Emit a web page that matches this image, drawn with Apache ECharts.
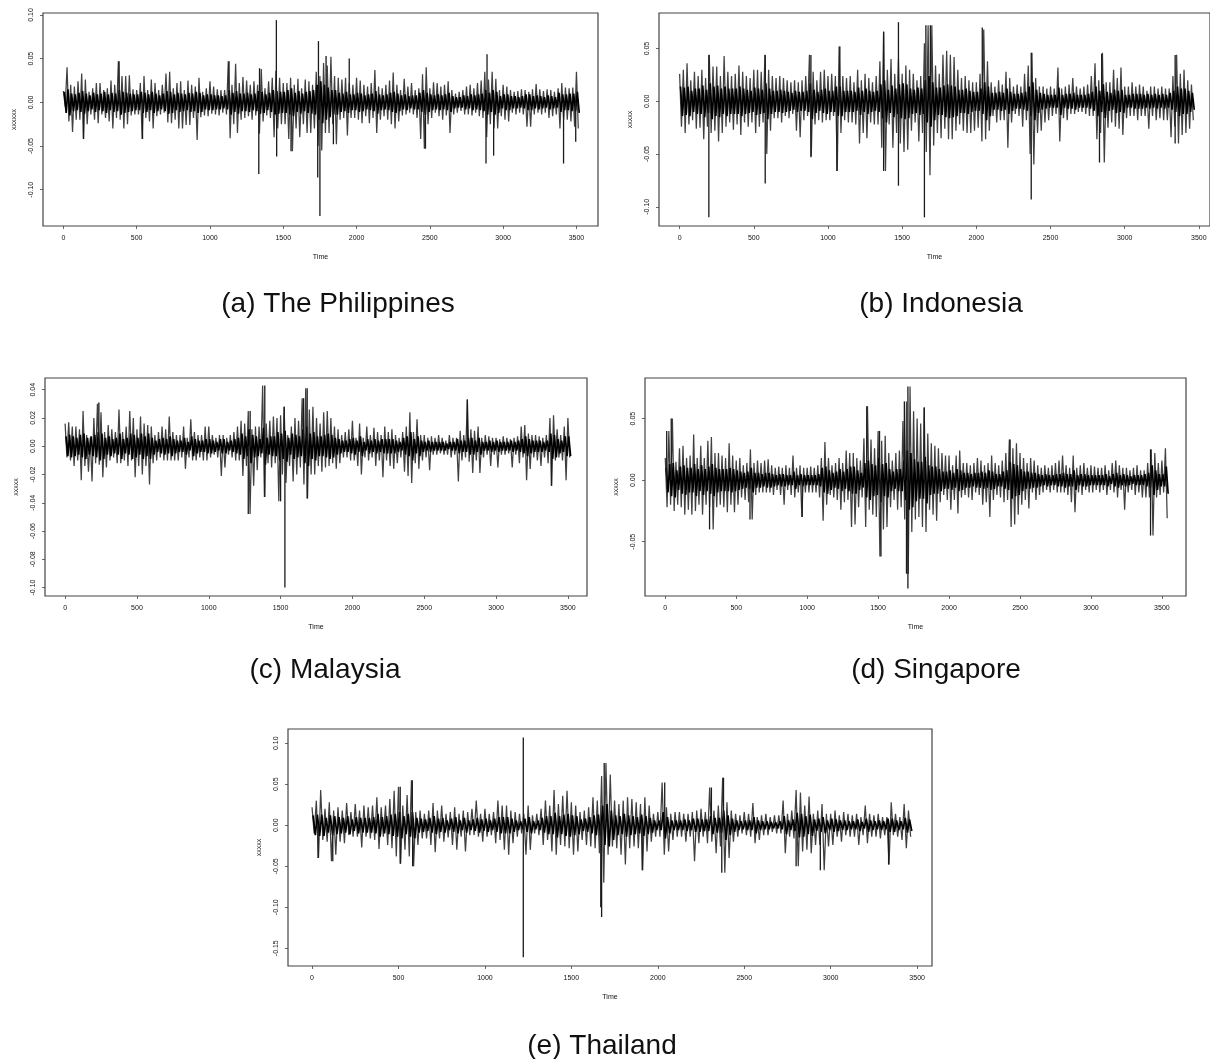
<!DOCTYPE html>
<html><head><meta charset="utf-8">
<script src="https://cdn.jsdelivr.net/npm/echarts@6/dist/echarts.min.js"></script>
<style>html,body{margin:0;padding:0;background:#fff}#c{width:1210px;height:1059px}</style></head>
<body><div id="c"></div>
<script>
// All series values in thousandths. highs/lows/mids: one row per 500 time units, 25 units per entry.
const xTicks=[0,500,1000,1500,2000,2500,3000,3500];
const highsA=[13,40,20,18,24,33,26,12,16,22,22,14,16,25,20,47,30,30,31,15,
14,22,30,14,26,22,14,20,33,35,16,22,24,14,25,20,18,28,12,16,
24,18,15,14,14,47,20,44,22,29,25,20,24,20,38,16,24,28,36,28,
22,22,28,20,27,16,26,24,20,35,30,45,42,52,30,28,26,28,22,20,
28,25,20,18,22,37,18,16,20,25,34,20,14,27,18,22,14,16,32,40,
16,23,22,18,20,24,14,10,12,14,18,20,16,22,25,35,26,35,27,14,
20,18,14,12,13,15,14,12,15,21,15,13,15,14,12,16,22,17,16,17,35];
const lowsA=[-5,-22,-34,-20,-20,-42,-25,-14,-20,-24,-14,-18,-22,-30,-18,-20,-30,-25,-15,-14,
-14,-42,-18,-22,-30,-16,-14,-12,-23,-24,-20,-30,-30,-26,-26,-18,-43,-17,-15,-16,
-13,-14,-15,-12,-14,-41,-25,-35,-20,-18,-16,-20,-15,-36,-22,-15,-18,-40,-30,-25,
-25,-42,-56,-30,-40,-25,-35,-35,-30,-50,-55,-35,-35,-25,-48,-20,-18,-38,-18,-18,
-20,-24,-16,-24,-18,-35,-20,-16,-20,-25,-30,-22,-15,-14,-12,-14,-18,-42,-53,-25,
-18,-12,-16,-20,-15,-35,-14,-12,-10,-14,-14,-15,-12,-16,-18,-40,-25,-30,-30,-16,
-20,-22,-12,-14,-12,-14,-28,-28,-14,-12,-14,-12,-18,-16,-14,-30,-20,-20,-22,-28,-30];
const midsA=[12,15,10,9,11,13,10,8,11,9,10,12,9,11,10,14,12,11,10,9,
9,12,11,9,12,10,8,10,13,12,9,11,10,9,11,10,12,11,8,9,
9,8,8,7,8,14,11,13,10,10,11,9,10,13,12,9,11,14,13,12,
12,14,16,11,13,10,12,13,14,20,24,20,17,14,14,11,10,12,9,9,
11,10,8,9,10,13,9,8,9,11,12,10,8,9,7,8,8,11,14,11,
9,8,9,8,9,11,7,6,6,8,7,9,8,9,10,14,11,14,12,7,
9,9,7,7,6,7,9,9,7,8,7,6,8,7,6,11,9,9,10,10,12];
const spikeTA=[1453,1455,1333,1338,1735,1750,1740,1950,2890,2883,2935,3412,3495,1792,2470,1842,1553,137,540,380,1130];
const spikeVA=[94,-62,-82,39,-86,-130,70,50,55,-70,-61,-70,-45,53,-53,-48,-56,-42,-42,47,47];

const highsB=[26,30,36,20,28,24,30,22,44,33,33,24,43,28,24,26,34,28,24,22,
30,30,28,44,30,24,22,24,22,20,18,20,18,20,24,44,28,20,28,30,
24,26,24,52,24,22,24,18,30,20,26,22,18,24,38,66,30,40,26,40,
26,34,30,26,20,24,55,72,72,34,26,44,48,44,42,30,22,24,20,18,
18,26,68,38,18,14,20,16,28,22,14,16,14,26,34,46,22,14,14,12,
14,12,32,12,14,16,22,14,12,14,16,24,36,20,46,18,18,30,22,32,
14,14,18,14,16,14,10,14,14,12,14,12,12,24,44,26,30,20,16];
const lowsB=[-24,-30,-22,-18,-26,-25,-36,-24,-30,-28,-38,-30,-24,-20,-27,-22,-32,-20,-24,-20,
-30,-24,-20,-50,-28,-16,-16,-20,-14,-16,-12,-28,-34,-18,-14,-52,-22,-18,-20,-18,
-18,-14,-66,-30,-18,-20,-20,-22,-40,-30,-35,-20,-22,-22,-44,-66,-22,-44,-30,-40,
-48,-46,-28,-20,-38,-30,-48,-70,-42,-30,-35,-26,-36,-36,-28,-22,-28,-30,-30,-28,
-25,-38,-36,-28,-14,-20,-18,-18,-44,-20,-12,-14,-24,-18,-50,-60,-30,-28,-20,-18,
-14,-12,-38,-16,-18,-12,-12,-10,-10,-12,-14,-14,-36,-30,-58,-25,-20,-24,-26,-32,
-16,-14,-14,-18,-14,-14,-26,-14,-18,-16,-18,-18,-34,-24,-40,-32,-30,-26,-18];
const midsB=[14,13,14,10,12,12,15,11,17,14,15,12,14,12,12,12,14,12,11,10,
13,12,11,17,12,10,10,11,10,9,8,10,9,9,10,17,11,9,11,12,
10,10,14,14,10,10,10,9,13,10,12,10,9,10,16,20,11,15,12,16,
17,16,12,11,13,12,20,24,18,13,13,15,16,15,14,11,11,12,10,9,
9,12,18,14,8,8,9,8,12,9,7,7,8,9,14,18,11,8,7,6,
6,6,13,6,7,7,8,6,6,6,7,9,14,10,16,9,8,11,10,11,
6,6,7,7,7,6,7,6,7,6,7,6,8,10,14,12,12,10,8];
const spikeTB=[197,197,577,577,885,885,1060,1080,1375,1375,1475,1475,1650,1660,1690,2040,2370,2370,2830,2845,3340,3340];
const spikeVB=[-110,44,-78,44,-53,44,-66,52,-66,66,-80,75,-110,72,72,70,-93,46,-58,45,44,-40];

const highsC=[16,17,14,14,12,25,8,6,20,30,24,10,15,12,10,26,10,14,25,20,
12,21,16,15,14,8,10,14,12,21,10,8,8,14,6,19,10,8,8,14,
14,8,6,8,8,6,8,10,14,18,16,25,12,14,14,43,16,18,21,20,
22,28,8,14,20,18,34,41,26,28,20,16,24,25,20,14,12,8,10,12,
18,6,16,6,14,8,13,10,8,14,10,12,8,6,10,14,24,10,19,8,
8,6,7,6,8,6,4,8,6,6,11,8,33,12,11,14,6,8,7,6,
6,5,7,6,5,6,7,14,15,9,8,8,7,6,8,20,22,12,8,14,20];
const lowsC=[-8,-10,-14,-10,-24,-14,-18,-25,-12,-13,-22,-15,-10,-8,-12,-12,-10,-14,-10,-22,
-14,-20,-14,-27,-12,-10,-8,-10,-10,-10,-10,-10,-8,-16,-8,-10,-10,-8,-10,-10,
-8,-6,-8,-21,-15,-6,-8,-10,-10,-21,-14,-48,-28,-17,-8,-36,-12,-15,-12,-39,
-20,-26,-14,-25,-20,-15,-27,-37,-20,-20,-14,-18,-15,-14,-12,-16,-12,-8,-8,-10,
-10,-14,-20,-8,-10,-8,-14,-10,-22,-10,-14,-16,-12,-8,-18,-21,-26,-12,-16,-10,
-8,-17,-6,-6,-5,-6,-6,-8,-6,-25,-10,-8,-11,-19,-10,-19,-8,-6,-14,-6,
-15,-6,-6,-5,-15,-6,-12,-8,-24,-16,-8,-10,-14,-8,-12,-28,-10,-8,-10,-24,-8];
const midsC=[7,8,7,6,8,9,6,7,8,10,9,6,7,5,6,9,5,6,9,8,
6,9,7,9,6,4,5,6,5,7,5,4,4,6,3,7,5,4,4,5,
5,4,3,5,5,3,4,5,6,9,7,12,8,7,5,13,6,7,7,10,
9,11,6,9,8,7,12,14,9,10,7,7,8,9,8,6,5,4,4,5,
6,4,7,3,5,4,5,4,5,5,5,5,4,3,6,7,10,5,7,4,
3,4,3,3,3,3,2,3,3,5,4,4,6,6,4,6,3,3,4,3,
4,3,3,3,4,3,4,5,7,5,4,4,4,3,4,9,8,5,4,7,7];
const spikeTC=[1390,1275,1288,1530,1525,1500,1390,2800,3385,1685,1685,1660,235];
const spikeVC=[43,-48,25,-100,28,-39,-36,33,-28,41,-37,34,31];

const highsD=[18,40,50,15,26,28,18,20,37,18,28,18,32,35,22,22,20,18,30,20,
16,18,12,14,25,14,16,14,16,17,12,10,11,10,12,10,20,10,12,10,
10,11,10,12,18,31,18,12,14,18,14,24,22,22,18,16,34,60,33,26,
40,32,36,22,16,22,24,48,64,76,56,50,46,59,38,30,28,26,22,20,
20,12,20,24,14,14,12,14,18,16,12,14,20,14,12,16,22,33,26,30,
22,18,14,18,16,12,10,12,10,12,14,16,20,12,10,20,10,12,14,10,
12,11,10,10,12,8,14,16,12,10,10,8,10,12,8,8,14,25,22,14,16,26];
const lowsD=[-22,-20,-25,-20,-22,-28,-24,-28,-25,-20,-28,-20,-22,-40,-22,-20,-22,-26,-20,-26,
-20,-14,-16,-18,-32,-12,-10,-10,-10,-10,-12,-8,-12,-20,-8,-12,-14,-10,-30,-10,
-10,-10,-10,-14,-33,-20,-12,-14,-16,-24,-18,-16,-38,-36,-22,-14,-38,-24,-28,-30,
-62,-40,-38,-22,-16,-24,-22,-32,-76,-42,-32,-30,-38,-42,-24,-28,-33,-18,-12,-16,
-24,-16,-27,-14,-12,-14,-16,-10,-12,-20,-18,-30,-16,-12,-14,-18,-16,-38,-36,-28,
-20,-16,-23,-10,-16,-12,-10,-8,-10,-8,-10,-10,-10,-12,-18,-26,-10,-12,-8,-10,
-10,-8,-10,-8,-12,-8,-10,-14,-8,-24,-10,-8,-12,-10,-14,-14,-14,-45,-14,-12,-10,-31];
const midsD=[10,13,14,8,11,12,10,10,13,9,12,9,11,13,10,9,9,9,10,9,
8,7,6,7,10,6,6,5,6,6,5,4,5,5,4,4,7,4,5,4,
4,4,4,5,10,11,8,6,7,9,7,9,11,11,8,6,14,16,13,12,
18,13,14,9,7,9,9,16,24,22,17,15,15,19,12,11,11,9,7,7,
8,6,9,8,6,6,5,6,6,7,6,8,7,5,5,7,8,15,13,12,
9,7,7,6,6,5,4,5,4,4,5,5,6,5,5,8,4,5,5,4,
4,4,4,4,5,3,5,6,4,5,4,3,4,4,4,5,6,12,8,5,5,11];
const spikeTD=[10,42,312,597,965,1420,1520,1510,1710,1700,1710,1825,3420,3420,2430,1685];
const spikeVD=[40,50,-40,-32,-30,60,-62,40,76,-76,-88,59,-45,25,33,64];

const highsE=[22,30,43,20,28,18,22,18,27,16,26,18,24,22,24,34,22,24,32,42,
47,24,37,55,16,18,14,18,27,18,24,14,16,22,14,18,16,20,30,14,
20,14,16,30,24,24,18,16,14,14,24,12,14,20,30,24,43,26,36,42,
28,24,16,18,22,34,30,60,76,62,30,26,30,34,32,28,26,34,24,14,
16,52,22,14,16,16,14,14,16,18,20,16,46,18,24,58,28,18,14,12,
16,14,27,10,12,14,10,12,12,30,14,18,43,40,24,35,14,18,26,14,
14,18,12,16,14,12,14,10,24,14,12,14,10,10,28,14,10,26,18];
const lowsE=[-10,-40,-18,-20,-44,-36,-20,-22,-12,-14,-14,-27,-14,-16,-18,-29,-14,-24,-28,-38,
-47,-30,-38,-50,-24,-16,-16,-24,-33,-16,-20,-15,-24,-30,-14,-32,-12,-12,-14,-20,
-14,-12,-22,-18,-30,-36,-22,-14,-10,-36,-30,-10,-12,-24,-18,-32,-36,-24,-26,-28,
-36,-32,-18,-24,-26,-28,-34,-70,-36,-26,-28,-36,-48,-28,-26,-28,-55,-32,-20,-14,
-14,-36,-32,-18,-14,-14,-20,-14,-44,-22,-14,-22,-20,-34,-26,-58,-40,-20,-14,-10,
-12,-14,-22,-18,-12,-12,-8,-10,-10,-34,-14,-16,-50,-32,-30,-34,-24,-24,-55,-26,
-24,-14,-20,-12,-14,-14,-24,-12,-22,-14,-14,-16,-12,-48,-12,-14,-18,-28,-14];
const midsE=[12,13,13,9,12,11,10,9,11,7,10,9,9,9,10,14,10,11,13,14,
16,11,14,16,9,8,7,9,11,8,9,6,8,10,6,9,6,7,9,7,
8,6,8,10,10,10,8,6,5,8,10,5,6,9,11,11,15,11,13,14,
12,11,7,8,10,12,13,24,26,18,12,11,14,12,11,10,13,11,9,6,
6,16,10,6,6,6,7,6,8,8,7,7,11,9,9,18,12,8,6,5,
6,6,10,6,5,5,4,4,5,11,6,7,15,14,11,13,7,8,10,6,
8,7,6,6,5,5,7,4,8,6,5,6,5,8,8,6,5,9,7];
const spikeTE=[1222,1222,1675,1670,1690,580,510,510,582,2040,2380,2370,2800,2940,3335,1910,120,35,2310];
const spikeVE=[107,-161,-112,-100,76,55,47,-47,-50,52,58,-58,-50,-55,-48,-55,-44,-40,46];

const panels=[
 {title:'(a) The Philippines',yName:'xxxxxx',hi:highsA,lo:lowsA,mid:midsA,st:spikeTA,sv:spikeVA,left:43,top:13,w:555,h:213,xMin:-139,xMax:3647,yMin:-0.1415,yMax:0.1022,yTicks:[-0.10,-0.05,0,0.05,0.10],tx:338,ty:302},
 {title:'(b) Indonesia',yName:'xxxxx',hi:highsB,lo:lowsB,mid:midsB,st:spikeTB,sv:spikeVB,left:659,top:13,w:553,h:213,xMin:-139,xMax:3575,yMin:-0.1182,yMax:0.0837,yTicks:[-0.10,-0.05,0,0.05],tx:941,ty:302},
 {title:'(c) Malaysia',yName:'xxxxx',hi:highsC,lo:lowsC,mid:midsC,st:spikeTC,sv:spikeVC,left:45,top:378,w:542,h:218,xMin:-140,xMax:3633,yMin:-0.106,yMax:0.0483,yTicks:[-0.10,-0.08,-0.06,-0.04,-0.02,0,0.02,0.04],tx:325,ty:668},
 {title:'(d) Singapore',yName:'xxxxx',hi:highsD,lo:lowsD,mid:midsD,st:spikeTD,sv:spikeVD,left:645,top:378,w:541,h:218,xMin:-143,xMax:3670,yMin:-0.0941,yMax:0.083,yTicks:[-0.05,0,0.05],tx:936,ty:668},
 {title:'(e) Thailand',yName:'xxxxx',hi:highsE,lo:lowsE,mid:midsE,st:spikeTE,sv:spikeVE,left:288,top:729,w:644,h:237,xMin:-139,xMax:3586,yMin:-0.1717,yMax:0.1174,yTicks:[-0.15,-0.10,-0.05,0,0.05,0.10],tx:602,ty:1044}
];
const lab={fontFamily:'Liberation Sans',fontSize:7,color:'#111'};
const grid=[],xAxis=[],yAxis=[],series=[],title=[];
panels.forEach((p,k)=>{
  grid.push({left:p.left,top:p.top,width:p.w,height:p.h,show:true,borderColor:'#444',borderWidth:1.2,backgroundColor:'#fff'});
  xAxis.push({type:'value',gridIndex:k,min:p.xMin,max:p.xMax,splitLine:{show:false},axisLine:{show:false,onZero:false},
    axisTick:{length:3,customValues:xTicks,lineStyle:{color:'#444',width:0.8}},
    axisLabel:{...lab,margin:9,customValues:xTicks,hideOverlap:false,formatter:v=>String(v)},
    name:'Time',nameLocation:'middle',nameGap:28,nameTextStyle:{...lab}});
  yAxis.push({type:'value',gridIndex:k,min:p.yMin,max:p.yMax,splitLine:{show:false},axisLine:{show:false,onZero:false},
    axisTick:{length:3,customValues:p.yTicks,lineStyle:{color:'#444',width:0.8}},
    axisLabel:{...lab,margin:8,rotate:90,customValues:p.yTicks,formatter:v=>v.toFixed(2)},
    name:p.yName,nameLocation:'middle',nameGap:25.5,nameTextStyle:{...lab}});
  const zig=[],zigMid=[];
  p.hi.forEach((h,i)=>{zig.push([i*25,h/1000]);zig.push([i*25+12.5,p.lo[i]/1000]);});
  p.mid.forEach((m,i)=>{zigMid.push([i*25+6,m/1000]);zigMid.push([i*25+19,-m/1000]);});
  series.push({type:'line',xAxisIndex:k,yAxisIndex:k,data:zig,symbol:'none',silent:true,animation:false,z:3,
    lineStyle:{color:'#404040',width:1.25}});
  series.push({type:'line',xAxisIndex:k,yAxisIndex:k,data:zigMid,symbol:'none',silent:true,animation:false,z:4,
    lineStyle:{color:'#000',width:1.7}});
  series.push({type:'bar',xAxisIndex:k,yAxisIndex:k,barWidth:1.3,silent:true,animation:false,z:5,
    data:p.st.map((t,i)=>[t,p.sv[i]/1000]),itemStyle:{color:'#1a1a1a'}});
  title.push({text:p.title,left:p.tx,top:p.ty-11.5,textAlign:'center',padding:0,
    textStyle:{fontFamily:'Liberation Sans',fontSize:28,fontWeight:'normal',color:'#111'}});
});
const chart=echarts.init(document.getElementById('c'),null,{renderer:'canvas'});
chart.setOption({animation:false,backgroundColor:'#fff',title,grid,xAxis,yAxis,series});
</script></body></html>
